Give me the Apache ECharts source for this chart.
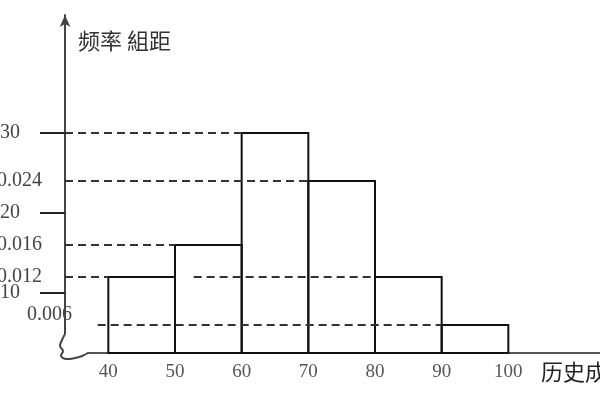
<!doctype html>
<html>
<head>
<meta charset="utf-8">
<title>频率分布直方图</title>
<style>
html,body{margin:0;padding:0;background:#fff;}
#chart{width:600px;height:400px;}
</style>
</head>
<body>
<div id="chart"></div>
<script src="https://cdn.jsdelivr.net/npm/echarts@6/dist/echarts.min.js"></script>
<script>
// 分组（历史成绩）
var binStarts = [40, 50, 60, 70, 80, 90];
var binWidth = 10;
// 频率/组距
var freqs = [0.012, 0.016, 0.030, 0.024, 0.012, 0.006];
// 刻度
var xTicks = [40, 50, 60, 70, 80, 90, 100];
var yTicks = [0.010, 0.020, 0.030];
var yMarks = [0.024, 0.016, 0.012];
var yLow = [0.006];
// 虚线：高度、起点、终点
var guideY = [0.030, 0.024, 0.016, 0.012, 0.012, 0.006];
var guideFrom = [33.5, 33.5, 33.5, 33.5, 52.8, 38.4];
var guideTo = [60, 70, 50, 40, 80, 90];

var xMin = 33.5, xMax = 113.75;
var yMin = 0.0025, yMax = 0.04475;
var serif = '"Liberation Serif", "Times New Roman", serif';

var chart = echarts.init(document.getElementById('chart'));

function yAxisFor(vals, margin, showLine, vAlign) {
	return {
		type: 'value',
		position: 'left',
		min: yMin,
		max: yMax,
		splitLine: { show: false },
		axisLine: {
			show: showLine,
			symbol: ['none', 'arrow'],
			symbolSize: [8, 12],
			lineStyle: { color: '#444', width: 2 }
		},
		axisTick: {
			show: showLine,
			customValues: vals,
			inside: false,
			length: 25,
			lineStyle: { color: '#222', width: 2 }
		},
		axisLabel: {
			customValues: vals,
			margin: margin,
			color: '#444',
			fontSize: 20,
			fontFamily: serif,
			verticalAlign: vAlign,
			formatter: function (v) { return v.toFixed(3); }
		}
	};
}

var option = {
	animation: false,
	title: [{
		text: '频率 組距',
		left: 78,
		top: 30,
		padding: 0,
		textStyle: { fontSize: 22, fontWeight: 'normal', color: '#333', fontFamily: '"Noto Sans CJK SC"' }
	}, {
		text: '历史成绩',
		left: 541,
		top: 361,
		padding: 0,
		textStyle: { fontSize: 22, fontWeight: 'normal', color: '#222', fontFamily: '"Noto Sans CJK SC"' }
	}],
	grid: { left: 65, right: 0, top: 15, bottom: 47, containLabel: false, outerBoundsMode: 'none' },
	xAxis: {
		type: 'value',
		min: xMin,
		max: xMax,
		splitLine: { show: false },
		axisLine: {
			lineStyle: { color: '#555', width: 2 }
		},
		axisTick: { show: false },
		axisLabel: {
			customValues: xTicks,
			margin: 10,
			color: '#555',
			fontSize: 19,
			fontFamily: serif
		}
	},
	yAxis: [
		yAxisFor(yTicks, 45, true, 'middle'),
		yAxisFor(yMarks, 23, false, 'middle'),
		yAxisFor(yLow, -7, false, 'bottom')
	],
	series: [{
		type: 'custom',
		silent: true,
		z: 2,
		data: binStarts.map(function (s, i) { return [s, s + binWidth, freqs[i]]; }),
		encode: { x: [0, 1], y: 2 },
		renderItem: function (params, api) {
			var p0 = api.coord([api.value(0), api.value(2)]);
			var p1 = api.coord([api.value(1), yMin]);
			return {
				type: 'rect',
				shape: { x: p0[0], y: p0[1], width: p1[0] - p0[0], height: p1[1] - p0[1] },
				style: { fill: 'none', stroke: '#111', lineWidth: 2 }
			};
		}
	}, {
		type: 'custom',
		silent: true,
		z: 3,
		data: guideY.map(function (y, i) { return [guideFrom[i], guideTo[i], y]; }),
		encode: { x: [0, 1], y: 2 },
		renderItem: function (params, api) {
			var a = api.coord([api.value(0), api.value(2)]);
			var b = api.coord([api.value(1), api.value(2)]);
			return {
				type: 'line',
				shape: { x1: a[0], y1: a[1], x2: b[0], y2: b[1] },
				style: { stroke: '#333', lineWidth: 2, lineDash: [8, 5] }
			};
		}
	}],
	graphic: [{
		type: 'rect',
		z: 100,
		shape: { x: 55, y: 334, width: 32, height: 22 },
		style: { fill: '#fff' }
	}, {
		type: 'polyline',
		z: 101,
		shape: { points: [[65, 334], [62, 340], [60, 346], [63, 351], [61, 356], [66, 359], [75, 358], [82, 356], [88, 353]], smooth: 0.4 },
		style: { stroke: '#444', lineWidth: 2, fill: 'none' }
	}]
};

chart.setOption(option);
</script>
</body>
</html>
